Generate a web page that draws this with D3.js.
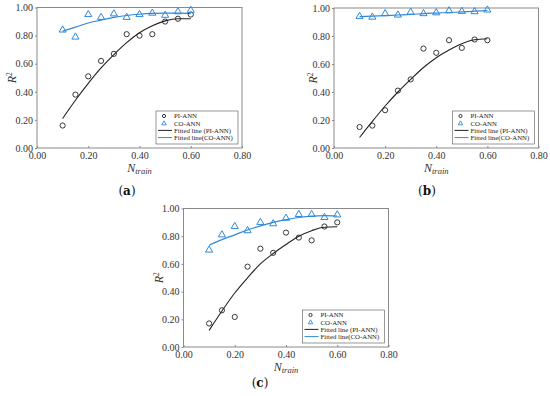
<!DOCTYPE html>
<html>
<head>
<meta charset="utf-8">
<script src="https://cdn.jsdelivr.net/npm/d3@7"></script>
<style>
  body { margin: 0; background: #fff; }
  svg { display: block; font-family: "Liberation Serif", "DejaVu Serif", serif; }
  .tick text { fill: #333; font-size: 10px; font-family: "Liberation Serif", serif; }
  .tick line { stroke: #888; }
</style>
</head>
<body>
<svg width="550" height="396"></svg>
<script>
var nTrain = [0.10, 0.15, 0.20, 0.25, 0.30, 0.35, 0.40, 0.45, 0.50, 0.55, 0.60];
var xTicks = [0.00, 0.20, 0.40, 0.60, 0.80];
var yTicks = [0.00, 0.20, 0.40, 0.60, 0.80, 1.00];
var legendLabels = ["PI-ANN", "CO-ANN", "Fitted line (PI-ANN)", "Fitted line(CO-ANN)"];
var panelLabels = ["a", "b", "c"];

// (a)
var piA    = [0.16, 0.38, 0.51, 0.62, 0.67, 0.81, 0.80, 0.81, 0.90, 0.92, 0.95];
var coA    = [0.84, 0.79, 0.95, 0.93, 0.955, 0.93, 0.95, 0.96, 0.945, 0.97, 0.98];
var piFitA = [0.21, 0.34, 0.46, 0.57, 0.665, 0.75, 0.82, 0.87, 0.905, 0.92, 0.92];
var coFitA = [0.832, 0.86, 0.89, 0.91, 0.93, 0.943, 0.952, 0.958, 0.96, 0.96, 0.957];

// (b)
var piB    = [0.15, 0.16, 0.27, 0.41, 0.49, 0.71, 0.68, 0.77, 0.715, 0.775, 0.77];
var coB    = [0.94, 0.935, 0.96, 0.95, 0.97, 0.96, 0.966, 0.98, 0.976, 0.974, 0.986];
var piFitB = [0.075, 0.19, 0.30, 0.40, 0.49, 0.575, 0.645, 0.70, 0.745, 0.773, 0.78];
var coFitB = [0.938, 0.942, 0.946, 0.95, 0.954, 0.96, 0.964, 0.968, 0.972, 0.977, 0.982];

// (c)
var piC    = [0.17, 0.265, 0.217, 0.58, 0.71, 0.68, 0.826, 0.79, 0.77, 0.87, 0.90];
var coC    = [0.70, 0.81, 0.87, 0.84, 0.90, 0.89, 0.93, 0.957, 0.957, 0.935, 0.954];
var piFitC = [0.12, 0.26, 0.39, 0.50, 0.60, 0.675, 0.74, 0.80, 0.84, 0.865, 0.868];
var coFitC = [0.735, 0.775, 0.81, 0.845, 0.875, 0.90, 0.92, 0.935, 0.945, 0.948, 0.946];

var blue = "#3189d6";
var svg = d3.select("svg");

var panels = [
    {label: panelLabels[0], x0: 37, x1: 242, y0: 7.5, y1: 148, labX: 127, labY: 195, yLabX: 12,
     pi: piA, co: coA, piFit: piFitA, coFit: coFitA},
    {label: panelLabels[1], x0: 334, x1: 538.5, y0: 8, y1: 148, labX: 427, labY: 195, yLabX: 313,
     pi: piB, co: coB, piFit: piFitB, coFit: coFitB},
    {label: panelLabels[2], x0: 183.5, x1: 388.5, y0: 208.5, y1: 347, labX: 260, labY: 387, yLabX: 159,
     pi: piC, co: coC, piFit: piFitC, coFit: coFitC}
];

panels.forEach(drawPanel);

function drawPanel(p) {
    var x = d3.scaleLinear().domain([0, 0.8]).range([p.x0, p.x1]),
        y = d3.scaleLinear().domain([0, 1]).range([p.y1, p.y0]);

    var g = svg.append("g").attr("class", "panel-" + p.label);

    var xAxis = d3.axisBottom(x).tickValues(xTicks).tickFormat(d3.format(".2f"))
        .tickSizeInner(-2).tickSizeOuter(0).tickPadding(4);
    var yAxis = d3.axisLeft(y).tickValues(yTicks).tickFormat(d3.format(".2f"))
        .tickSizeInner(2).tickSizeOuter(0).tickPadding(2);

    g.append("g").attr("transform", "translate(0," + p.y1 + ")").call(xAxis)
        .call(function(s) { s.select(".domain").remove(); });
    g.append("g").attr("transform", "translate(" + p.x0 + ",0)").call(yAxis)
        .call(function(s) { s.select(".domain").remove(); });

    g.append("rect")
        .attr("x", p.x0).attr("y", p.y0)
        .attr("width", p.x1 - p.x0).attr("height", p.y1 - p.y0)
        .attr("fill", "none").attr("stroke", "#8a8a8a").attr("stroke-width", 1);

    var line = d3.line()
        .curve(d3.curveMonotoneX)
        .x(function(d, i) { return x(nTrain[i]); })
        .y(function(d) { return y(d); });

    g.append("path").datum(p.coFit)
        .attr("d", line).attr("fill", "none").attr("stroke", blue).attr("stroke-width", 1.2);
    g.append("path").datum(p.piFit)
        .attr("d", line).attr("fill", "none").attr("stroke", "#222").attr("stroke-width", 1.1);

    g.selectAll(".pi").data(p.pi).enter().append("circle")
        .attr("class", "pi")
        .attr("cx", function(d, i) { return x(nTrain[i]); })
        .attr("cy", function(d) { return y(d); })
        .attr("r", 2.6)
        .attr("fill", "none").attr("stroke", "#222").attr("stroke-width", 0.9);

    var tri = d3.symbol().type(d3.symbolTriangle).size(22);
    g.selectAll(".co").data(p.co).enter().append("path")
        .attr("class", "co")
        .attr("transform", function(d, i) { return "translate(" + x(nTrain[i]) + "," + y(d) + ")"; })
        .attr("d", tri)
        .attr("fill", "none").attr("stroke", blue).attr("stroke-width", 1);

    // legend
    var lw = 82, lh = 33;
    var lx = p.x1 - 4 - lw, ly = p.y1 - 4 - lh;
    var leg = g.append("g").attr("transform", "translate(" + lx + "," + ly + ")");
    leg.append("rect").attr("width", lw).attr("height", lh)
        .attr("fill", "#fff").attr("stroke", "#555").attr("stroke-width", 0.6);
    legendLabels.forEach(function(t, i) {
        var ry = 5 + i * 7.2;
        if (i == 0) {
            leg.append("circle").attr("cx", 8).attr("cy", ry).attr("r", 1.6)
                .attr("fill", "none").attr("stroke", "#222").attr("stroke-width", 0.9);
        } else if (i == 1) {
            leg.append("path").attr("transform", "translate(8," + (ry + 0.3) + ")")
                .attr("d", d3.symbol().type(d3.symbolTriangle).size(9))
                .attr("fill", "none").attr("stroke", blue).attr("stroke-width", 0.9);
        } else {
            leg.append("line").attr("x1", 2).attr("x2", 16).attr("y1", ry).attr("y2", ry)
                .attr("stroke", i == 2 ? "#222" : blue).attr("stroke-width", 1);
        }
        leg.append("text").attr("x", 18).attr("y", ry + 2.3)
            .attr("font-size", "6.8px").attr("fill", "#222").text(t);
    });

    // axis titles
    var ym = (p.y0 + p.y1) / 2, xm = (p.x0 + p.x1) / 2;
    var yl = g.append("text")
        .attr("transform", "translate(" + (p.yLabX + 4) + "," + ym + ") rotate(-90)")
        .attr("text-anchor", "middle").attr("font-size", "12px").attr("fill", "#333")
        .attr("font-style", "italic");
    yl.append("tspan").text("R");
    yl.append("tspan").attr("font-size", "7.5px").attr("dy", "-4.5").attr("font-style", "normal").text("2");

    var xl = g.append("text")
        .attr("x", xm).attr("y", p.y1 + 24)
        .attr("text-anchor", "middle").attr("font-size", "12px").attr("fill", "#333")
        .attr("font-style", "italic");
    xl.append("tspan").text("N");
    xl.append("tspan").attr("font-size", "8.5px").attr("dy", "2").text("train");

    var pl = g.append("text")
        .attr("x", p.labX).attr("y", p.labY)
        .attr("text-anchor", "middle").attr("font-size", "12px").attr("fill", "#111")
        .attr("font-family", "'DejaVu Serif', serif");
    pl.append("tspan").text("(");
    pl.append("tspan").attr("font-weight", "bold").text(p.label);
    pl.append("tspan").text(")");
}
</script>
</body>
</html>
